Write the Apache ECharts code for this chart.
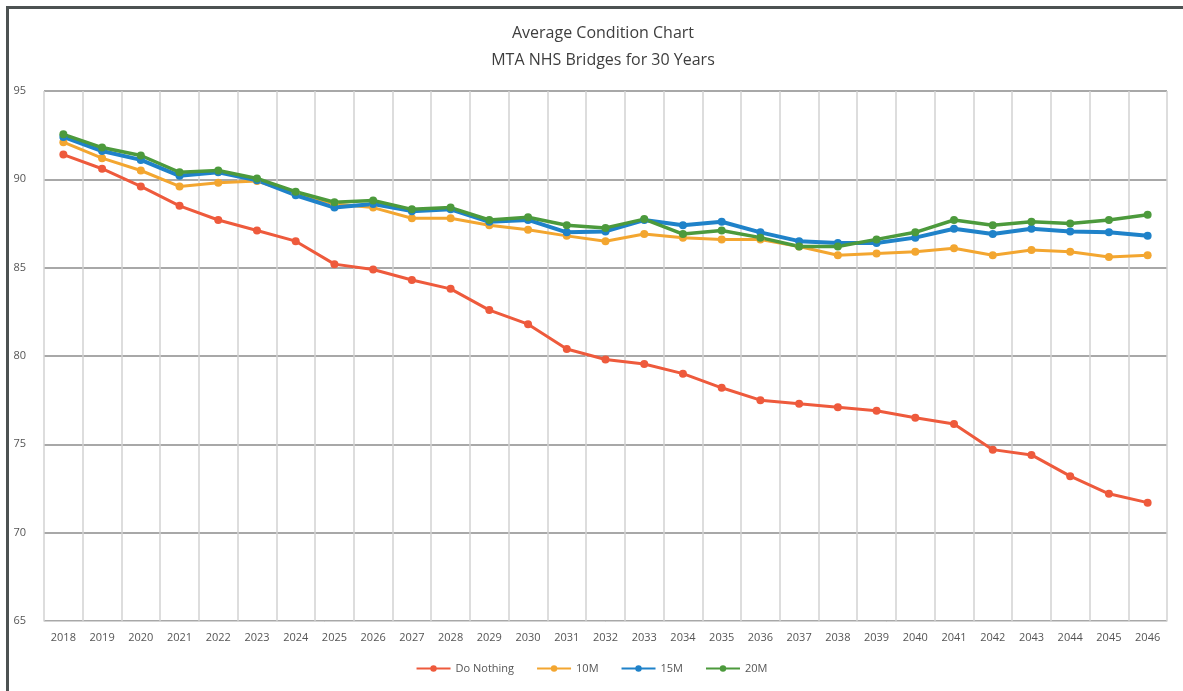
<!DOCTYPE html>
<html>
<head>
<meta charset="utf-8">
<title>Average Condition Chart</title>
<script src="https://cdn.jsdelivr.net/npm/echarts@6/dist/echarts.min.js"></script>
<style>
  html, body { margin: 0; padding: 0; background: #fff; }
  #frame { position: absolute; left: 6px; top: 6px; width: 1177px; height: 685px;
           border-left: 3px solid #4d5252; border-top: 3px solid #4d5252; box-sizing: border-box; }
  #chart { position: absolute; left: 0; top: 0; width: 1183px; height: 691px; }
</style>
</head>
<body>
<div id="frame"></div>
<div id="chart"></div>
<script>
// years on the x axis
const years = [
  '2018', '2019', '2020', '2021', '2022', '2023', '2024', '2025', '2026', '2027',
  '2028', '2029', '2030', '2031', '2032', '2033', '2034', '2035', '2036', '2037',
  '2038', '2039', '2040', '2041', '2042', '2043', '2044', '2045', '2046'
]

// average condition per scenario
const doNothing = [
  91.4, 90.6, 89.6, 88.5, 87.7, 87.1, 86.5, 85.2, 84.9, 84.3,
  83.8, 82.6, 81.8, 80.4, 79.8, 79.55, 79.0, 78.2, 77.5, 77.3,
  77.1, 76.9, 76.5, 76.15, 74.7, 74.4, 73.2, 72.2, 71.7
]
const m10 = [
  92.1, 91.2, 90.5, 89.6, 89.8, 89.9, 89.2, 88.6, 88.4, 87.8,
  87.8, 87.4, 87.15, 86.8, 86.5, 86.9, 86.7, 86.6, 86.6, 86.2,
  85.7, 85.8, 85.9, 86.1, 85.7, 86.0, 85.9, 85.6, 85.7
]
const m15 = [
  92.4, 91.6, 91.1, 90.2, 90.4, 89.95, 89.1, 88.4, 88.6, 88.2,
  88.3, 87.6, 87.7, 87.0, 87.05, 87.7, 87.4, 87.6, 87.0, 86.5,
  86.4, 86.4, 86.7, 87.2, 86.9, 87.2, 87.05, 87.0, 86.8
]
const m20 = [
  92.55, 91.8, 91.35, 90.4, 90.5, 90.05, 89.3, 88.7, 88.8, 88.3,
  88.4, 87.7, 87.85, 87.4, 87.25, 87.75, 86.9, 87.1, 86.7, 86.2,
  86.2, 86.6, 87.0, 87.7, 87.4, 87.6, 87.5, 87.7, 88.0
]

const chart = echarts.init(document.getElementById('chart'))

function line(name, data, color, width) {
  return {
    name: name,
    type: 'line',
    data: data,
    symbol: 'circle',
    symbolSize: 8,
    lineStyle: { color: color, width: width },
    itemStyle: { color: color },
    emphasis: { disabled: true }
  }
}

chart.setOption({
  animation: false,
  title: {
    text: 'Average Condition Chart\nMTA NHS Bridges for 30 Years',
    left: 598,
    top: 15,
    textAlign: 'center',
    textStyle: { fontFamily: 'Open Sans', fontSize: 16, fontWeight: 'normal', color: '#3e3e3e', lineHeight: 27 }
  },
  legend: {
    bottom: 12,
    left: 'center',
    itemWidth: 34,
    itemHeight: 8,
    itemGap: 22,
    textStyle: { fontFamily: 'Open Sans', fontSize: 11, color: '#555' },
    data: ['Do Nothing', '10M', '15M', '20M']
  },
  grid: { left: 44, right: 16, top: 91, bottom: 70 },
  xAxis: {
    type: 'category',
    data: years,
    boundaryGap: true,
    axisLine: { show: true, lineStyle: { color: '#d4d4d4', width: 1 } },
    axisTick: { show: false },
    axisLabel: { color: '#555', fontFamily: 'Open Sans', fontSize: 11, margin: 11, interval: 0 },
    splitLine: { show: true, lineStyle: { color: '#d2d2d2', width: 1.5 } }
  },
  yAxis: {
    type: 'value',
    min: 65,
    max: 95,
    interval: 5,
    axisLine: { show: false },
    axisTick: { show: false },
    axisLabel: { color: '#555', fontFamily: 'Open Sans', fontSize: 11, margin: 18 },
    splitLine: { lineStyle: { color: '#a8a8a8', width: 2 } }
  },
  series: [
    line('Do Nothing', doNothing, '#ee5a3c', 3),
    line('10M', m10, '#f3a630', 3),
    line('15M', m15, '#1f82c9', 4),
    line('20M', m20, '#4c9a3c', 3.5)
  ]
})
</script>
</body>
</html>
